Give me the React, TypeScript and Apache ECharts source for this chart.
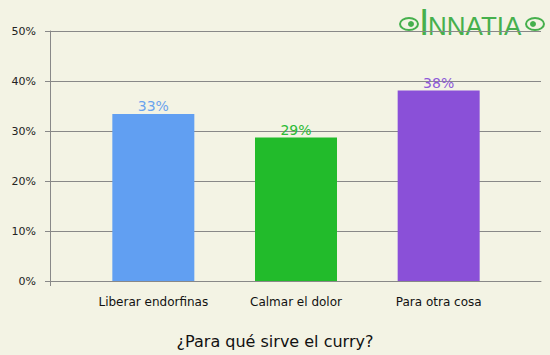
import React, { useEffect, useRef } from "react";
import * as echarts from "echarts";

const categories = ["Liberar endorfinas", "Calmar el dolor", "Para otra cosa"];
const values = [33.4, 28.7, 38.1];
const barColors = ["#619ff2", "#22bb2b", "#8a50d8"];
const labelColors = ["#6aa3ee", "#2cbb35", "#8d58d8"];
const titleText = "¿Para qué sirve el curry?";

export default function App() {
  const ref = useRef<HTMLDivElement>(null);
  useEffect(() => {
    document.body.style.margin = "0";
    if (!ref.current) return;
    const chart = echarts.init(ref.current, null, { renderer: "svg" });
    const green = "#46b04d";
    chart.setOption({
      animation: false,
      backgroundColor: "#f3f3e4",
      title: {
        text: titleText,
        left: "center",
        top: 328,
        textStyle: { fontFamily: "DejaVu Sans", fontSize: 16, fontWeight: "normal", color: "#111" },
      },
      grid: [
        { left: 50, right: 9, top: 31, bottom: 74 },
        { left: 82, right: 40, top: 31, bottom: 74 },
      ],
      xAxis: [
        {
          gridIndex: 0,
          type: "category",
          data: ["", ""],
          boundaryGap: false,
          axisLine: { show: true, lineStyle: { color: "#888", width: 1 } },
          axisTick: { show: true, length: 5, interval: (i: number) => i === 0, lineStyle: { color: "#888" } },
          axisLabel: { show: false },
          splitLine: { show: false },
        },
        {
          gridIndex: 1,
          type: "category",
          data: categories,
          axisLine: { show: false },
          axisTick: { show: false },
          axisLabel: { margin: 15, fontFamily: "DejaVu Sans", fontSize: 12, color: "#111" },
        },
      ],
      yAxis: [
        {
          gridIndex: 0,
          type: "value",
          min: 0,
          max: 50,
          interval: 10,
          axisLine: { show: true, lineStyle: { color: "#888", width: 1 } },
          axisTick: { show: true, length: 5, lineStyle: { color: "#888" } },
          axisLabel: { formatter: "{value}%", margin: 14, fontFamily: "DejaVu Sans", fontSize: 11, color: "#222" },
          splitLine: { show: true, lineStyle: { color: "#888", width: 1 } },
        },
        {
          gridIndex: 1,
          type: "value",
          min: 0,
          max: 50,
          interval: 10,
          show: false,
          splitLine: { show: false },
        },
      ],
      series: [
        {
          type: "bar",
          xAxisIndex: 1,
          yAxisIndex: 1,
          barWidth: 82,
          data: values.map((v, i) => ({
            value: v,
            itemStyle: { color: barColors[i] },
            label: { color: labelColors[i] },
          })),
          label: {
            show: true,
            position: "top",
            distance: 1,
            fontFamily: "DejaVu Sans",
            fontSize: 14,
            formatter: (p: any) => Math.round(p.value) + "%",
          },
        },
      ],
      graphic: [
        { type: "ellipse", shape: { cx: 409, cy: 24, rx: 9, ry: 6 }, style: { fill: "none", stroke: green, lineWidth: 2 } },
        { type: "circle", shape: { cx: 411, cy: 24, r: 3 }, style: { fill: green } },
        { type: "ellipse", shape: { cx: 535, cy: 24, rx: 9, ry: 6 }, style: { fill: "none", stroke: green, lineWidth: 2 } },
        { type: "circle", shape: { cx: 533, cy: 24, r: 3 }, style: { fill: green } },
        {
          type: "text",
          x: 419,
          y: 41,
          style: { text: "I", fontFamily: "Liberation Sans", fontSize: 37, fill: green, textVerticalAlign: "bottom", textAlign: "left" },
        },
        {
          type: "text",
          x: 428,
          y: 38.5,
          style: { text: "NNATIA", fontFamily: "Liberation Sans", fontSize: 26, fill: green, textVerticalAlign: "bottom", textAlign: "left" },
        },
      ],
    });
    return () => chart.dispose();
  }, []);
  return <div ref={ref} style={{ width: 550, height: 355 }} />;
}
